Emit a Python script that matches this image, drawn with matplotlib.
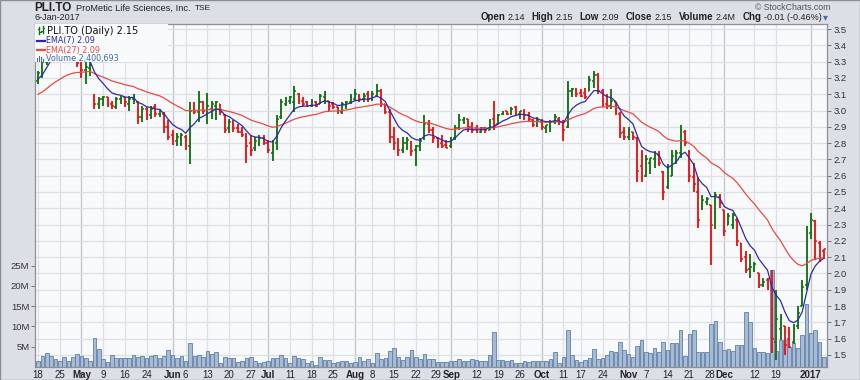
import numpy as np
import pandas as pd
import matplotlib
matplotlib.use("Agg")
import matplotlib.pyplot as plt
from matplotlib.patches import Rectangle
from matplotlib.lines import Line2D
from matplotlib.transforms import blended_transform_factory, ScaledTranslation

plt.rcParams['font.family'] = ['Liberation Sans', 'DejaVu Sans']

# TSX trading days shown on the chart
holidays = ["2016-05-23", "2016-07-01", "2016-08-01", "2016-09-05",
            "2016-10-10", "2016-12-26", "2016-12-27", "2017-01-02"]
days = pd.bdate_range("2016-04-18", "2017-01-06")
days = days[~days.isin(pd.to_datetime(holidays))]

opens = [3.18, 3.22, 3.30, 3.40, 3.44, 3.42, 3.40, 3.43, 3.38, 3.32,
         3.28, 3.25, 3.26, 3.09, 3.04, 3.07, 3.08, 3.04, 3.02, 3.07,
         3.08, 3.04, 3.07, 3.05, 2.96, 3.01, 2.97, 3.02, 2.98, 2.98,
         2.90, 2.85, 2.81, 2.83, 2.84, 2.78, 3.02, 2.99, 3.05, 3.00,
         3.01, 3.03, 3.04, 2.97, 2.89, 2.93, 2.89, 2.87, 2.84, 2.80,
         2.77, 2.80, 2.83, 2.80, 2.74, 2.80, 2.96, 3.04, 3.06, 3.05,
         3.10, 3.06, 3.05, 3.03, 3.05, 3.04, 3.08, 3.06, 3.04, 3.02,
         2.99, 3.04, 3.05, 3.07, 3.09, 3.07, 3.10, 3.07, 3.09, 3.12,
         3.04, 2.99, 2.84, 2.80, 2.76, 2.80, 2.80, 2.76, 2.78, 2.83,
         2.92, 2.88, 2.83, 2.80, 2.79, 2.78, 2.83, 2.89, 2.94, 2.95,
         2.90, 2.89, 2.87, 2.89, 2.88, 2.95, 2.92, 2.98, 3.00, 2.98,
         3.02, 2.98, 2.99, 2.97, 2.94, 2.91, 2.93, 2.89, 2.90, 2.93,
         2.95, 2.93, 2.90, 3.12, 3.13, 3.11, 3.11, 3.12, 3.18, 3.22,
         3.12, 3.04, 3.03, 3.05, 2.98, 2.87, 2.84, 2.87, 2.83, 2.66,
         2.60, 2.68, 2.70, 2.73, 2.62, 2.53, 2.60, 2.72, 2.74, 2.87,
         2.75, 2.59, 2.50, 2.40, 2.44, 2.42, 2.32, 2.47, 2.39, 2.30,
         2.30, 2.33, 2.19, 2.10, 2.03, 2.02, 2.00, 1.93, 1.96, 1.95,
         1.58, 1.66, 1.68, 1.60, 1.58, 1.68, 1.80, 1.93, 2.25, 2.32, 2.19, 2.14]
highs = [3.24, 3.31, 3.40, 3.46, 3.47, 3.45, 3.46, 3.44, 3.39, 3.33,
         3.30, 3.31, 3.31, 3.10, 3.08, 3.09, 3.08, 3.06, 3.08, 3.09,
         3.08, 3.09, 3.10, 3.06, 3.03, 3.02, 3.03, 3.04, 3.01, 2.99,
         2.94, 2.88, 2.86, 2.86, 2.85, 3.05, 3.05, 3.12, 3.06, 3.11,
         3.06, 3.06, 3.04, 2.98, 2.95, 2.94, 2.92, 2.90, 2.86, 2.85,
         2.84, 2.85, 2.85, 2.82, 2.82, 2.97, 3.07, 3.08, 3.09, 3.15,
         3.11, 3.08, 3.06, 3.07, 3.06, 3.10, 3.12, 3.06, 3.05, 3.02,
         3.05, 3.06, 3.10, 3.13, 3.10, 3.11, 3.12, 3.12, 3.16, 3.13,
         3.04, 3.01, 2.90, 2.83, 2.84, 2.84, 2.81, 2.79, 2.83, 2.97,
         2.94, 2.90, 2.84, 2.85, 2.82, 2.84, 2.91, 2.98, 2.96, 2.95,
         2.93, 2.91, 2.90, 2.90, 2.95, 3.06, 2.98, 3.00, 3.00, 3.02,
         3.03, 3.00, 3.01, 2.99, 2.95, 2.96, 2.95, 2.91, 2.94, 2.98,
         2.96, 2.94, 3.18, 3.14, 3.14, 3.13, 3.14, 3.21, 3.24, 3.23,
         3.13, 3.10, 3.13, 3.05, 2.99, 2.90, 2.90, 2.87, 2.84, 2.76,
         2.73, 2.71, 2.75, 2.75, 2.63, 2.67, 2.76, 2.76, 2.91, 2.88,
         2.76, 2.68, 2.59, 2.48, 2.47, 2.42, 2.50, 2.49, 2.39, 2.37,
         2.37, 2.34, 2.19, 2.14, 2.12, 2.07, 2.00, 1.97, 1.97, 2.02,
         1.90, 1.75, 1.68, 1.67, 1.69, 1.80, 1.96, 2.29, 2.37, 2.33, 2.20, 2.15]
lows = [3.16, 3.20, 3.28, 3.34, 3.36, 3.35, 3.36, 3.34, 3.31, 3.27,
        3.20, 3.16, 3.21, 3.01, 3.01, 3.03, 3.02, 3.01, 3.01, 3.04,
        3.02, 3.00, 3.04, 2.92, 2.93, 2.94, 2.95, 2.96, 2.96, 2.86,
        2.82, 2.79, 2.78, 2.78, 2.76, 2.67, 2.98, 2.93, 2.98, 2.92,
        2.95, 2.94, 2.97, 2.86, 2.86, 2.87, 2.86, 2.84, 2.68, 2.72,
        2.75, 2.78, 2.79, 2.74, 2.69, 2.76, 2.95, 3.03, 3.04, 2.99,
        3.04, 3.03, 3.03, 3.02, 3.02, 3.04, 3.04, 3.00, 3.01, 2.98,
        2.98, 3.01, 3.04, 3.06, 3.05, 3.05, 3.05, 3.06, 3.08, 3.02,
        2.98, 2.80, 2.76, 2.72, 2.74, 2.76, 2.72, 2.66, 2.75, 2.82,
        2.86, 2.80, 2.77, 2.77, 2.77, 2.77, 2.82, 2.88, 2.92, 2.87,
        2.86, 2.86, 2.86, 2.86, 2.88, 2.88, 2.92, 2.97, 2.97, 2.97,
        2.97, 2.95, 2.94, 2.93, 2.90, 2.90, 2.88, 2.86, 2.87, 2.92,
        2.91, 2.81, 2.89, 3.08, 3.08, 3.08, 3.07, 3.12, 3.14, 3.10,
        3.02, 3.01, 3.01, 2.97, 2.83, 2.82, 2.82, 2.82, 2.56, 2.56,
        2.59, 2.61, 2.65, 2.66, 2.45, 2.52, 2.60, 2.67, 2.71, 2.78,
        2.56, 2.50, 2.28, 2.39, 2.42, 2.05, 2.27, 2.40, 2.23, 2.30,
        2.27, 2.17, 2.07, 2.00, 1.97, 2.01, 1.91, 1.92, 1.90, 1.51,
        1.47, 1.59, 1.50, 1.54, 1.57, 1.66, 1.80, 1.90, 2.21, 2.08, 2.07, 2.09]
closes = [3.23, 3.30, 3.40, 3.44, 3.42, 3.40, 3.43, 3.38, 3.34, 3.29,
          3.25, 3.27, 3.28, 3.04, 3.07, 3.08, 3.04, 3.03, 3.07, 3.08,
          3.05, 3.07, 3.08, 2.96, 3.01, 2.97, 3.01, 2.98, 3.00, 2.90,
          2.84, 2.82, 2.84, 2.85, 2.79, 3.00, 2.99, 3.05, 3.00, 3.03,
          3.04, 3.05, 2.99, 2.88, 2.93, 2.89, 2.87, 2.85, 2.78, 2.76,
          2.81, 2.83, 2.80, 2.76, 2.80, 2.95, 3.05, 3.06, 3.08, 3.12,
          3.06, 3.04, 3.03, 3.05, 3.03, 3.09, 3.10, 3.03, 3.02, 2.99,
          3.04, 3.05, 3.08, 3.10, 3.07, 3.09, 3.07, 3.10, 3.12, 3.04,
          2.99, 2.84, 2.80, 2.76, 2.80, 2.82, 2.75, 2.78, 2.81, 2.92,
          2.88, 2.83, 2.79, 2.78, 2.77, 2.82, 2.89, 2.94, 2.95, 2.90,
          2.88, 2.87, 2.89, 2.88, 2.94, 2.91, 2.97, 2.99, 2.98, 3.01,
          2.99, 3.00, 2.97, 2.95, 2.91, 2.94, 2.90, 2.91, 2.93, 2.96,
          2.93, 2.88, 3.12, 3.13, 3.10, 3.09, 3.08, 3.19, 3.22, 3.12,
          3.05, 3.03, 3.06, 2.99, 2.86, 2.84, 2.88, 2.84, 2.63, 2.58,
          2.70, 2.71, 2.73, 2.68, 2.50, 2.58, 2.72, 2.74, 2.85, 2.80,
          2.60, 2.55, 2.33, 2.45, 2.46, 2.30, 2.48, 2.43, 2.26, 2.35,
          2.36, 2.20, 2.09, 2.02, 2.04, 2.06, 1.93, 1.95, 1.92, 1.60,
          1.72, 1.73, 1.56, 1.55, 1.66, 1.76, 1.92, 2.24, 2.33, 2.20, 2.16, 2.15]
volume_m = [1.6, 2.6, 3.5, 2.6, 1.9, 1.6, 2.5, 1.6, 2.5, 3.3,
            2.6, 2.3, 1.6, 7.2, 4.5, 1.9, 1.2, 2.9, 2.1, 2.3,
            2.1, 2.1, 2.9, 2.5, 2.6, 2.1, 2.7, 3.0, 2.1, 2.6,
            4.3, 2.9, 2.3, 2.6, 1.4, 6.0, 2.8, 3.0, 2.5, 3.9,
            3.1, 3.7, 1.1, 2.5, 2.1, 2.1, 1.2, 1.5, 2.2, 2.5,
            1.6, 1.0, 1.2, 1.6, 2.1, 2.3, 2.9, 2.3, 1.1, 2.7,
            2.3, 1.9, 0.9, 1.5, 0.5, 2.4, 1.7, 1.7, 0.9, 1.3,
            1.5, 1.5, 1.1, 1.3, 2.4, 1.6, 1.9, 1.1, 3.5, 1.9,
            2.3, 4.0, 4.8, 2.4, 1.7, 2.4, 4.3, 2.4, 1.9, 3.2,
            1.9, 1.9, 1.2, 1.3, 1.3, 1.5, 1.5, 1.9, 1.6, 1.6,
            1.9, 1.7, 1.6, 1.6, 3.0, 8.7, 1.7, 1.7, 1.6, 1.7,
            1.1, 1.1, 1.6, 1.3, 1.6, 1.6, 1.5, 1.6, 1.9, 3.6,
            1.1, 2.5, 9.1, 3.0, 1.7, 1.3, 1.7, 2.1, 4.4, 1.9,
            2.1, 2.9, 3.9, 3.6, 6.1, 4.3, 3.1, 2.5, 5.1, 6.6,
            3.7, 3.5, 4.7, 3.7, 6.1, 4.3, 5.8, 5.8, 9.0, 2.7,
            8.1, 9.1, 3.7, 3.7, 3.8, 10.5, 11.3, 6.1, 4.3, 4.5,
            4.0, 5.3, 5.3, 13.6, 11.0, 4.8, 3.8, 3.7, 3.4, 24.0,
            4.0, 6.7, 6.7, 5.0, 5.8, 4.8, 8.0, 15.5, 8.3, 9.2, 6.2, 2.4]

# EMA values at the left edge of the chart
ema7_start = 3.18
ema27_start = 3.09

tick_dates = ["2016-04-18", "2016-04-25", "2016-05-02", "2016-05-09", "2016-05-16",
              "2016-05-24", "2016-06-01", "2016-06-06", "2016-06-13", "2016-06-20",
              "2016-06-27", "2016-07-04", "2016-07-11", "2016-07-18", "2016-07-25",
              "2016-08-02", "2016-08-08", "2016-08-15", "2016-08-22", "2016-08-29",
              "2016-09-01", "2016-09-12", "2016-09-19", "2016-09-26", "2016-10-03",
              "2016-10-11", "2016-10-17", "2016-10-24", "2016-11-01", "2016-11-07",
              "2016-11-14", "2016-11-21", "2016-11-28", "2016-12-01", "2016-12-12",
              "2016-12-19", "2017-01-03"]
tick_labels = ["18", "25", "May", "9", "16", "24", "Jun", "6", "13", "20", "27",
               "Jul", "11", "18", "25", "Aug", "8", "15", "22", "29", "Sep", "12",
               "19", "26", "Oct", "11", "17", "24", "Nov", "7", "14", "21", "28",
               "Dec", "12", "19", "2017"]
month_labels = ["May", "Jun", "Jul", "Aug", "Sep", "Oct", "Nov", "Dec", "2017"]
price_ticks = [1.5, 1.6, 1.7, 1.8, 1.9, 2.0, 2.1, 2.2, 2.3, 2.4, 2.5,
               2.6, 2.7, 2.8, 2.9, 3.0, 3.1, 3.2, 3.3, 3.4, 3.5]
vol_ticks = [5, 10, 15, 20, 25]


def ema(values, start, span):
    a = 2.0 / (span + 1)
    out = []
    prev = start
    for v in values:
        prev = prev + a * (v - prev)
        out.append(prev)
    return np.array(out)


x = np.arange(len(days))
o = np.array(opens); h = np.array(highs); l = np.array(lows); c = np.array(closes)
prev_c = np.concatenate([[o[0]], c[:-1]])
GREEN, RED = '#127212', '#ee1111'
cols = [GREEN if c[i] >= prev_c[i] else RED for i in range(len(c))]
ema7 = ema(closes, ema7_start, 7)
ema27 = ema(closes, ema27_start, 27)
tick_idx = [days.get_loc(pd.Timestamp(d)) for d in tick_dates]

W, H = 860, 380
L, R, T, B = 35, 827, 24, 367
fig = plt.figure(figsize=(W / 100, H / 100), dpi=100)
fig.patch.set_facecolor('#dce0e6')

ax = fig.add_axes([L / W, 1 - B / H, (R - L) / W, (B - T) / H])
ax.set_facecolor('#f8f9fb')
axp = ax.twinx()

# grid
for i, lab in zip(tick_idx, tick_labels):
    if lab in month_labels:
        ax.axvline(i, color='#c2c7ce', lw=1.0, zorder=0.5)
    else:
        ax.axvline(i, color='#dde0e5', lw=0.9, zorder=0.5)
tr = blended_transform_factory(ax.transAxes, axp.transData)
for p in price_ticks:
    ax.add_line(Line2D([0, 1], [p, p], transform=tr, color='#dde0e5', lw=0.9, zorder=0.5))

# volume
ax.bar(x, volume_m, width=0.84, color='#a8bbd4', edgecolor='#5f7fa8', linewidth=0.6, zorder=2)

# OHLC bars
axp.vlines(x, l, h, colors=cols, lw=1.35, zorder=3)
axp.hlines(o, x - 0.42, x, colors=cols, lw=1.1, zorder=3)
axp.hlines(c, x, x + 0.42, colors=cols, lw=1.1, zorder=3)

# moving averages
axp.plot(x, ema27, color='#e84a44', lw=0.9, zorder=4)
axp.plot(x, ema7, color='#2b2ba6', lw=0.9, zorder=5)

ax.set_xlim(-0.7, len(x) - 0.3)
ax.set_ylim(0, 84.5)
axp.set_ylim(1.426, 3.531)

ax.set_xticks(tick_idx)
ax.set_xticklabels(tick_labels)
ax.tick_params(axis='x', length=0, pad=2.5, labelsize=7, labelcolor='#222222')
# "29Sep" and "28Dec" sit very close together: nudge them apart a little
nudge = {"29": -1.4, "28": -1.4, "Sep": 0.6, "Dec": 0.6}
for k, t in enumerate(ax.get_xticklabels()):
    lab = tick_labels[k]
    if lab in month_labels:
        t.set_fontweight('bold')
    nxt = tick_labels[k + 1] if k + 1 < len(tick_labels) else ""
    prv = tick_labels[k - 1] if k > 0 else ""
    if (lab in ("29", "28") and nxt in ("Sep", "Dec")) or (lab in ("Sep", "Dec") and prv in ("29", "28")):
        t.set_transform(t.get_transform() + ScaledTranslation(nudge[lab] / 100, 0, fig.dpi_scale_trans))

ax.set_yticks(vol_ticks)
ax.set_yticklabels([f"{v}M" for v in vol_ticks])
ax.tick_params(axis='y', length=3, width=0.6, color='#666666', pad=1, labelsize=6.8, labelcolor='#333333')
axp.set_yticks(price_ticks)
axp.set_yticklabels([f"{p:.1f}" for p in price_ticks])
axp.tick_params(axis='y', length=3, width=0.6, color='#666666', pad=1.5, labelsize=6.8, labelcolor='#333333')
for a in (ax, axp):
    for s in a.spines.values():
        s.set_color('#8a8f96')
        s.set_linewidth(0.8)

# legend box (upper left, inside the plot)
axp.add_patch(Rectangle((0, (B - 62) / (B - T)), (168 - L) / (R - L), (62 - T) / (B - T),
                        transform=axp.transAxes, facecolor='#f8f9fb', edgecolor='none', zorder=6))


def fx(px):
    return px / W


def fy(py):
    return 1 - py / H


# legend glyphs
for xx, y0, y1, yo, yc in [(39, 27, 34, 29, 32), (42.5, 26, 33, 31, 28)]:
    fig.add_artist(Line2D([fx(xx), fx(xx)], [fy(y0), fy(y1)], color=GREEN, lw=1.0))
    fig.add_artist(Line2D([fx(xx - 1.5), fx(xx)], [fy(yo), fy(yo)], color=GREEN, lw=0.8))
    fig.add_artist(Line2D([fx(xx), fx(xx + 1.5)], [fy(yc), fy(yc)], color=GREEN, lw=0.8))
fig.text(fx(47), fy(31), "PLI.TO (Daily) 2.15", fontsize=7, family='DejaVu Sans',
         color='#111111', va='center')
fig.add_artist(Line2D([fx(36.5), fx(44.5)], [fy(40.5), fy(40.5)], color='#2b2ba6', lw=1.6))
fig.text(fx(46.5), fy(40.5), "EMA(7) 2.09", fontsize=5.8, family='DejaVu Sans',
         color='#2b2ba6', va='center')
fig.add_artist(Line2D([fx(36.5), fx(44.5)], [fy(50), fy(50)], color='#e84a44', lw=1.6))
fig.text(fx(46.5), fy(50), "EMA(27) 2.09", fontsize=5.8, family='DejaVu Sans',
         color='#e84a44', va='center')
for xx, hh in [(37.5, 4), (39.5, 6), (41.5, 5), (43.5, 3)]:
    fig.add_artist(Rectangle((fx(xx - 0.8), fy(62)), 1.6 / W, hh / H, facecolor='#3d6aa3',
                             edgecolor='none'))
fig.text(fx(46.5), fy(59), "Volume 2,400,693", fontsize=5.8, family='DejaVu Sans',
         color='#3d6aa3', va='center')

# header
renderer = fig.canvas.get_renderer()
fig.text(fx(34.5), fy(8), "PLI.TO", fontsize=8.5, fontweight='bold', color='#222222', va='center')
name = fig.text(fx(75.5), fy(8.5), "ProMetic Life Sciences, Inc.", fontsize=6.7,
                color='#222222', va='center')
name_end = 75.5 + name.get_window_extent(renderer=renderer).width
fig.text(fx(name_end + 5), fy(8.5), "TSE", fontsize=6, color='#222222', va='center')
fig.text(fx(34.5), fy(17.5), "6-Jan-2017", fontsize=6.5, color='#222222', va='center')
fig.text(fx(830), fy(7), "\u00a9 StockCharts.com", fontsize=6.3, color='#555555',
         va='center', ha='right')

runs = [("Open", 'bold'), ("2.14", 'normal'), ("High", 'bold'), ("2.15", 'normal'),
        ("Low", 'bold'), ("2.09", 'normal'), ("Close", 'bold'), ("2.15", 'normal'),
        ("Volume", 'bold'), ("2.4M", 'normal'), ("Chg", 'bold'), ("-0.01 (-0.46%)", 'normal')]
xr = 821.5
fig.text(fx(828), fy(17), "\u25be", fontsize=7, color='#3d6ab0', va='center', ha='right',
         family='DejaVu Sans')
for txt, wt in reversed(runs):
    tt = fig.text(fx(xr), fy(17), txt, fontsize=7 if wt == 'bold' else 6.5, fontweight=wt,
                  color='#222222', va='center', ha='right')
    wpx = tt.get_window_extent(renderer=renderer).width
    xr -= wpx + (2.5 if wt == 'normal' else 6.5)

fig.add_artist(Rectangle((0, 0), 1, 1, transform=fig.transFigure, fill=False,
                         edgecolor='#8a8f96', lw=1.0))

fig.savefig("out.png", dpi=100, facecolor=fig.get_facecolor())
